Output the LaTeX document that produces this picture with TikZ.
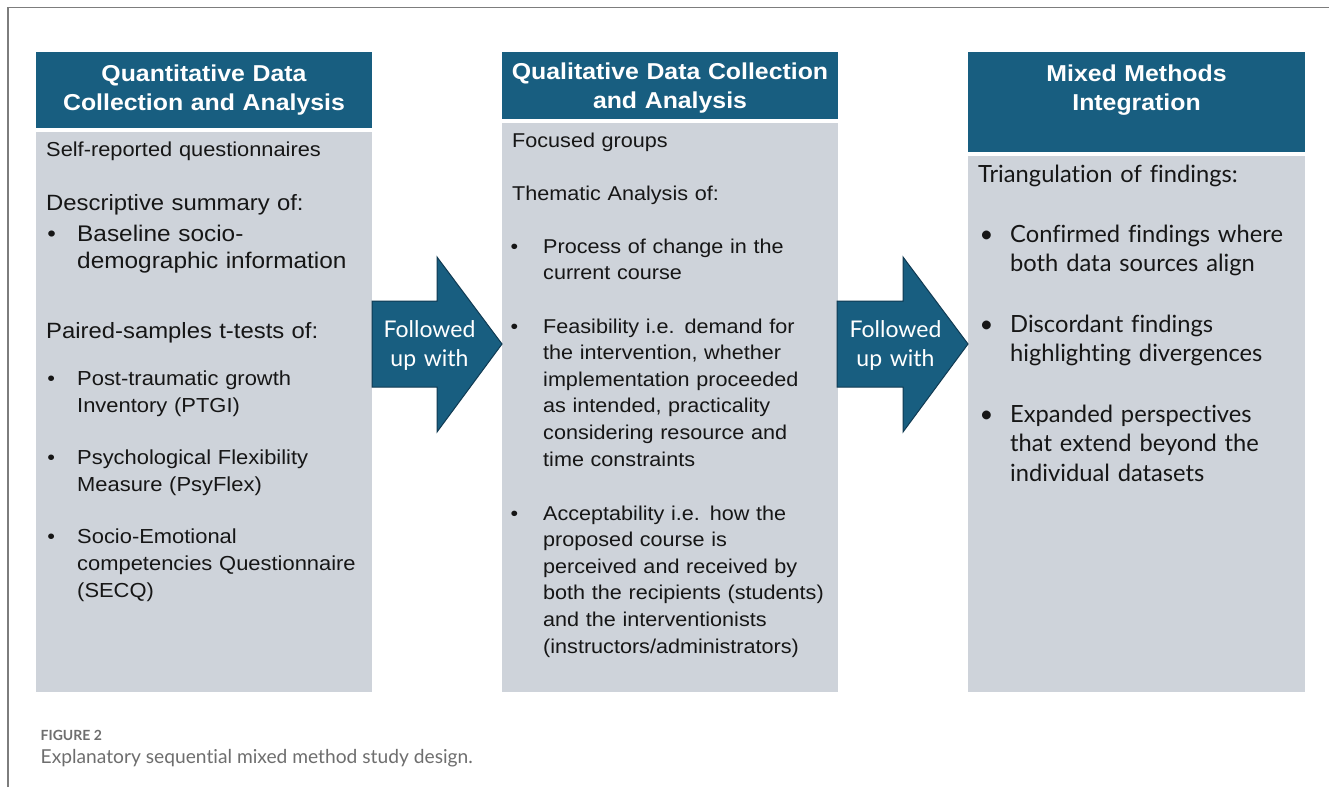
\documentclass[tikz,border=0pt]{standalone}
\usepackage{fontspec}
\setmainfont{Liberation Sans}
\newfontfamily\bodyf[FakeStretch=1.08]{Liberation Sans}
\newfontfamily\aptf[Ligatures=NoCommon]{Lato}
\newfontfamily\capf[Ligatures=NoCommon]{Lato}
\definecolor{hblue}{RGB}{24,94,128}
\definecolor{bgray}{RGB}{206,211,218}
\definecolor{aline}{RGB}{16,58,82}
\definecolor{framec}{RGB}{125,125,125}
\definecolor{capc}{RGB}{110,110,110}
\definecolor{txt}{RGB}{22,22,22}
\newcommand{\bul}[1]{\llap{\makebox[#1][l]{\textbullet}}}
\begin{document}
\begin{tikzpicture}[x=1bp,y=-1bp,
  hdr/.style={fill=hblue},
  bodybox/.style={fill=bgray},
  htext/.style={anchor=base, inner sep=0, text width=330bp, align=center, text=white,
    font=\bodyf\bfseries\fontsize{23bp}{29.5bp}\selectfont},
  ta/.style={anchor=base west, inner sep=0, text width=320bp, align=left, text=txt,
    font=\bodyf\fontsize{20.3bp}{27.3bp}\selectfont},
  tal/.style={ta, font=\bodyf\fontsize{22.6bp}{27.8bp}\selectfont},
  tab/.style={ta, font=\bodyf\fontsize{22.1bp}{27.3bp}\selectfont},
  tas/.style={ta, font=\bodyf\fontsize{20.2bp}{27bp}\selectfont},
  tb/.style={ta, font=\bodyf\fontsize{20bp}{26.6bp}\selectfont},
  tc/.style={ta, font=\aptf\fontsize{23.7bp}{29.6bp}\selectfont},
  blockarrow/.style={fill=hblue, draw=aline, line width=1bp, line join=miter},
  atext/.style={anchor=base, inner sep=0, text width=120bp, align=center, text=white,
    font=\aptf\fontsize{23bp}{29.5bp}\selectfont},
  captitle/.style={anchor=base west, inner sep=0, text=capc, font=\capf\bfseries\fontsize{14bp}{17bp}\selectfont},
  captext/.style={anchor=base west, inner sep=0, text=capc, font=\capf\fontsize{19.2bp}{23bp}\selectfont}
]
\useasboundingbox (0,0) rectangle (1329,787);
\fill[white] (0,0) rectangle (1329,787);
\draw[framec, line width=1.5bp] (8,787) -- (8,7.5) -- (1329,7.5);

% boxes
\fill[hdr] (36,52) rectangle (372,127.5);
\fill[bodybox] (36,131.5) rectangle (372,692);
\fill[hdr] (502,52) rectangle (838,119);
\fill[bodybox] (502,122.5) rectangle (838,692);
\fill[hdr] (968,52) rectangle (1305,152);
\fill[bodybox] (968,156) rectangle (1305,692);

% headers
\node[htext] (h1) at (204,81) {Quantitative Data\\Collection and Analysis};
\node[htext] (h2) at (670,79) {Qualitative Data Collection\\and Analysis};
\node[htext] (h3) at (1136.5,81) {Mixed Methods\\Integration};

% column 1
\node[tas] (c1a) at (46,156) {Self-reported questionnaires};
\node[tab] (c1b) at (46,210) {Descriptive summary of:};
\node[tal] (c1c) at (77,241) {\bul{29.8bp}Baseline socio-\\demographic information};
\node[tab] (c1d) at (46,338) {Paired-samples t-tests of:};
\node[ta] (c1e) at (77,385) {\bul{29.8bp}Post-traumatic growth\\Inventory (PTGI)};
\node[ta] (c1f) at (77,464) {\bul{29.8bp}Psychological Flexibility\\Measure (PsyFlex)};
\node[ta] (c1g) at (77,543) {\bul{29.8bp}Socio-Emotional\\competencies Questionnaire\\(SECQ)};

% column 2
\node[tb] (c2a) at (512,147) {Focused groups};
\node[tb] (c2b) at (512,200) {Thematic Analysis of:};
\node[tb] (c2c) at (543,253) {\bul{32.5bp}Process of change in the\\current course};
\node[tb] (c2d) at (543,333) {\bul{32.5bp}Feasibility i.e. demand for\\the intervention, whether\\implementation proceeded\\as intended, practicality\\considering resource and\\time constraints};
\node[tb] (c2e) at (543,520) {\bul{32.5bp}Acceptability i.e. how the\\proposed course is\\perceived and received by\\both the recipients (students)\\and the interventionists\\(instructors/administrators)};

% column 3
\node[tc] (c3a) at (978,182) {Triangulation of findings:};
\node[tc] (c3b) at (1010,242) {\bul{30.5bp}Confirmed findings where\\both data sources align};
\node[tc] (c3c) at (1010,332) {\bul{30.5bp}Discordant findings\\highlighting divergences};
\node[tc] (c3d) at (1010,422) {\bul{30.5bp}Expanded perspectives\\that extend beyond the\\individual datasets};

% block arrows
\draw[blockarrow] (372,301) -- (437,301) -- (437,257) -- (502,344) -- (437,432) -- (437,387) -- (372,387) -- cycle;
\node[atext] (a1) at (429.5,337) {Followed\\up with};
\draw[blockarrow] (837,301) -- (903,301) -- (903,257) -- (968,344) -- (903,432) -- (903,387) -- (837,387) -- cycle;
\node[atext] (a2) at (895.5,337) {Followed\\up with};

% caption
\node[captitle] (cap1) at (40.5,740) {FIGURE 2};
\node[captext] (cap2) at (40.5,763) {Explanatory sequential mixed method study design.};
\end{tikzpicture}
\end{document}
